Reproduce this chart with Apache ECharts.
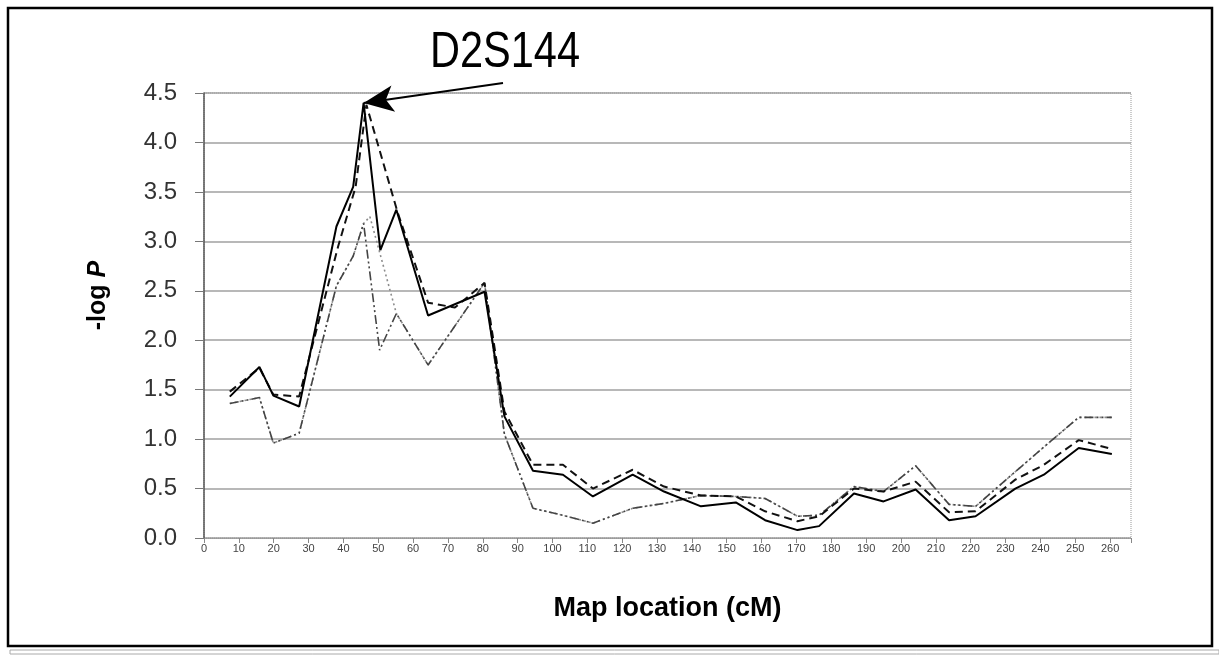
<html>
<head>
    <meta charset="UTF-8">
    <title>Map location scan</title>
    <script src="https://cdn.jsdelivr.net/npm/echarts@6/dist/echarts.min.js"></script>
    <style>
        body {
            padding: 0;
            margin: 0;
            overflow: hidden;
            background: #fff;
        }
        #chart {
            width: 1219px;
            height: 656px;
        }
    </style>
</head>
<body>
<div id="chart"></div>

<script>
    // [cM, -log P] pairs
    const solidLine = [
        [7.4, 1.43], [15.9, 1.73], [19.9, 1.44], [27.3, 1.33], [38, 3.15], [42.8, 3.55], [45.8, 4.4],
        [50.6, 2.91], [55.2, 3.32], [64.3, 2.25], [80.5, 2.49], [86.2, 1.23], [94.4, 0.68], [103, 0.64],
        [111.6, 0.42], [123, 0.64], [132, 0.47], [142.6, 0.32], [152.6, 0.36], [161, 0.18], [170.3, 0.08],
        [176.5, 0.12], [186.5, 0.45], [195, 0.37], [204.2, 0.49], [213.8, 0.18], [221.4, 0.22], [232.8, 0.5],
        [241, 0.64], [251, 0.91], [260.5, 0.85]
    ];
    const dashedLine = [
        [7.4, 1.48], [15.9, 1.72], [19.9, 1.45], [27.3, 1.43], [38.5, 2.95], [43.5, 3.55], [46.6, 4.38],
        [55.5, 3.3], [64.3, 2.38], [72, 2.33], [80.5, 2.58], [86.2, 1.28], [94.4, 0.74], [103, 0.74],
        [111.6, 0.5], [123, 0.69], [132, 0.52], [142.6, 0.43], [152.6, 0.42], [161, 0.27], [170.3, 0.17],
        [176.5, 0.22], [186.5, 0.5], [195, 0.47], [204.2, 0.57], [213.8, 0.26], [221.4, 0.27], [232.8, 0.59],
        [241, 0.74], [251, 0.99], [260.5, 0.9]
    ];
    const dottedLine = [
        [7.4, 1.36], [15.9, 1.42], [19.9, 0.96], [27.3, 1.06], [38, 2.55], [42.8, 2.85], [45.8, 3.18],
        [47.6, 3.25], [55.2, 2.27], [64.3, 1.75], [80.5, 2.58], [86.2, 1.05], [94.4, 0.3], [103, 0.23],
        [111.6, 0.15], [123, 0.3], [132, 0.35], [142.6, 0.43], [152.6, 0.42], [161, 0.4], [170.3, 0.22],
        [176.5, 0.23], [186.5, 0.52], [195, 0.47], [204.2, 0.73], [213.8, 0.34], [221.4, 0.32], [232.8, 0.67],
        [241, 0.92], [251, 1.22], [260.5, 1.22]
    ];
    const dashDotLine = [
        [7.4, 1.36], [15.9, 1.42], [19.9, 0.96], [27.3, 1.06], [38, 2.55], [42.8, 2.85], [45.8, 3.18],
        [50.4, 1.9], [55.2, 2.27], [64.3, 1.75], [80.5, 2.58], [86.2, 1.05], [94.4, 0.3], [103, 0.23],
        [111.6, 0.15], [123, 0.3], [132, 0.35], [142.6, 0.43], [152.6, 0.42], [161, 0.4], [170.3, 0.22],
        [176.5, 0.23], [186.5, 0.52], [195, 0.47], [204.2, 0.73], [213.8, 0.34], [221.4, 0.32], [232.8, 0.67],
        [241, 0.92], [251, 1.22], [260.5, 1.22]
    ];
    const peakMarker = 'D2S144';
    const peakCoord = [45.8, 4.4];

    const ec = echarts.init(document.getElementById('chart'));

    function lineSeries(data, color, width, dash) {
        return {
            type: 'line',
            data: data,
            symbol: 'none',
            silent: true,
            lineStyle: {color: color, width: width, type: dash}
        };
    }

    const option = {
        animation: false,
        grid: {
            left: 204,
            right: 88,
            top: 93,
            bottom: 118,
            show: true,
            borderColor: '#999',
            borderWidth: 1,
            borderType: 'dotted'
        },
        xAxis: {
            type: 'value',
            min: 0,
            max: 266,
            interval: 10,
            name: 'Map location (cM)',
            nameLocation: 'middle',
            nameGap: 57,
            nameTextStyle: {
                fontFamily: 'Liberation Sans, Arial',
                fontWeight: 'bold',
                fontSize: 27,
                color: '#000'
            },
            axisLine: {lineStyle: {color: '#999', type: 'dotted', width: 1}},
            axisTick: {length: 5, lineStyle: {color: '#888'}},
            splitLine: {show: false},
            axisLabel: {
                fontFamily: 'Liberation Sans, Arial',
                fontSize: 11,
                color: '#444',
                margin: 5,
                formatter: v => (v % 10 === 0 ? String(v) : '')
            }
        },
        yAxis: {
            type: 'value',
            min: 0,
            max: 4.5,
            interval: 0.5,
            name: '{a|-log }{b|P}',
            nameLocation: 'middle',
            nameRotate: 90,
            nameGap: 93,
            nameTextStyle: {
                padding: [0, 0, 0, 40],
                rich: {
                    a: {fontFamily: 'Liberation Sans, Arial', fontWeight: 'bold', fontSize: 25, color: '#000'},
                    b: {fontFamily: 'Liberation Sans, Arial', fontWeight: 'bold', fontStyle: 'italic', fontSize: 25, color: '#000'}
                }
            },
            axisLine: {show: true, lineStyle: {color: '#555', width: 1.5}},
            axisTick: {show: true, length: 9, lineStyle: {color: '#777'}},
            splitLine: {show: true, lineStyle: {color: '#a0a0a0', width: 1.5}},
            axisLabel: {
                fontFamily: 'Liberation Sans, Arial',
                fontSize: 24,
                color: '#333',
                margin: 27,
                formatter: v => v.toFixed(1)
            }
        },
        series: [
            lineSeries(dottedLine, '#8c8c8c', 1.6, [2, 3]),
            lineSeries(dashDotLine, '#444', 1.6, [9, 3, 2, 3, 2, 3]),
            lineSeries(dashedLine, '#111', 2, [8, 5]),
            Object.assign(lineSeries(solidLine, '#000', 2, 'solid'), {
                markLine: {
                    silent: true,
                    symbol: ['none', 'arrow'],
                    symbolSize: [20, 30],
                    lineStyle: {color: '#000', width: 2, type: 'solid'},
                    label: {show: false},
                    data: [[{x: 503, y: 83}, {coord: peakCoord}]]
                }
            })
        ],
        graphic: [
            {
                type: 'rect',
                shape: {x: 8, y: 8, width: 1204, height: 638},
                style: {fill: null, stroke: '#000', lineWidth: 2.5},
                silent: true
            },
            {
                type: 'rect',
                shape: {x: 10, y: 650, width: 1209, height: 4},
                style: {fill: null, stroke: '#aaa', lineWidth: 1},
                silent: true
            },
            {
                type: 'text',
                x: 430,
                y: 28,
                scaleX: 0.83,
                style: {
                    text: peakMarker,
                    font: '50px "Liberation Sans", Arial',
                    fill: '#000'
                }
            }
        ]
    };
    ec.setOption(option);
</script>
</body>
</html>
